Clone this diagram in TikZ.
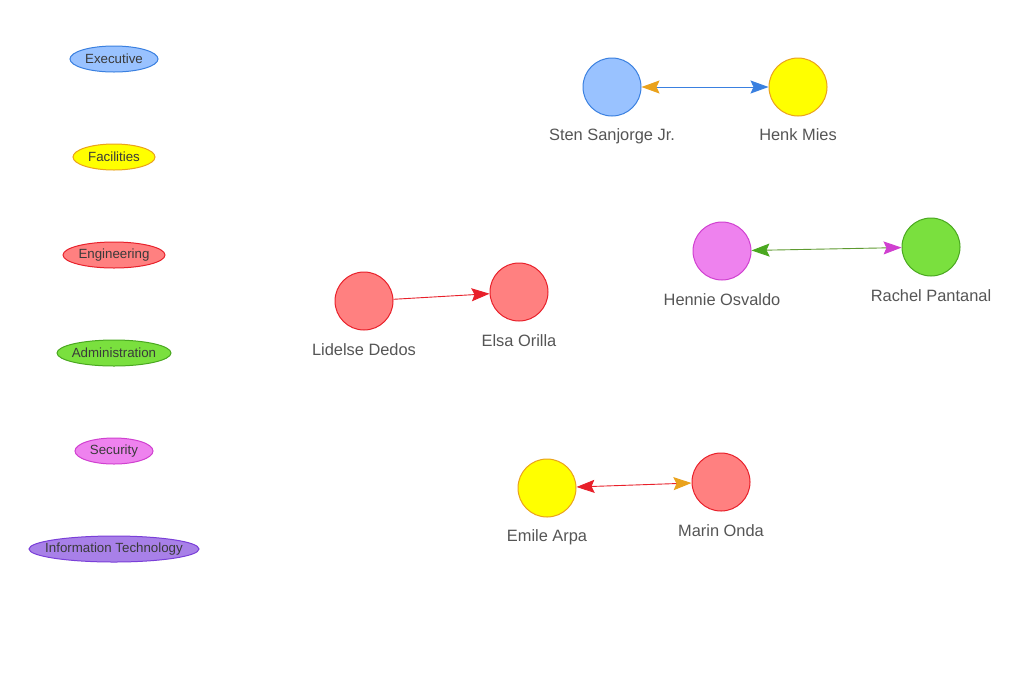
\documentclass[tikz,border=0pt]{standalone}
\usepackage{fontspec}
\setmainfont{Liberation Sans}
\usetikzlibrary{arrows.meta,shapes.geometric}
\definecolor{bluefill}{HTML}{99C2FF}\definecolor{bluestroke}{HTML}{3A80E0}
\definecolor{yelfill}{HTML}{FFFF00}\definecolor{yelstroke}{HTML}{EAA21C}
\definecolor{redfill}{HTML}{FF8080}\definecolor{redstroke}{HTML}{E8202A}
\definecolor{grnfill}{HTML}{7AE03E}\definecolor{grnstroke}{HTML}{4AA820}
\definecolor{magfill}{HTML}{EE82EE}\definecolor{magstroke}{HTML}{D040D0}
\definecolor{purfill}{HTML}{A880E8}\definecolor{purstroke}{HTML}{7A3FD8}
\definecolor{olive2}{HTML}{5E9A30}
\definecolor{lbl}{HTML}{555555}
\definecolor{lgtxt}{HTML}{3A3A3A}
\newcommand{\zw}[1]{\makebox[0pt]{#1}}
\tikzset{
  person/.style={circle,minimum size=58pt,inner sep=0pt,line width=1pt},
  lab/.style={text=lbl,font=\fontsize{16.4}{19}\selectfont},
  legend/.style={ellipse,minimum height=26pt,inner sep=0pt,line width=1pt,text=lgtxt,font=\fontsize{13.3}{15}\selectfont},
  tipp/.tip={Stealth[length=18pt,width=13pt,inset=3pt]},
  conn/.style={line width=0.9pt}
}
\begin{document}
\begin{tikzpicture}[x=1pt,y=-1pt]
\useasboundingbox[fill=white] (0,0) rectangle (1032,686);
% legend
\node[legend,fill=bluefill,draw=bluestroke,minimum width=88pt] (lexe) at (114,59) {\zw{Executive}};
\node[legend,fill=yelfill,draw=yelstroke,minimum width=82pt] (lfac) at (114,157) {\zw{Facilities}};
\node[legend,fill=redfill,draw=redstroke,minimum width=102pt] (leng) at (114,255) {\zw{Engineering}};
\node[legend,fill=grnfill,draw=grnstroke,minimum width=114pt] (ladm) at (114,353) {\zw{Administration}};
\node[legend,fill=magfill,draw=magstroke,minimum width=78pt] (lsec) at (114,451) {\zw{Security}};
\node[legend,fill=purfill,draw=purstroke,minimum width=170pt] (lit) at (114,549) {\zw{Information Technology}};
% people
\node[person,fill=bluefill,draw=bluestroke] (sten) at (612,87) {};
\node[person,fill=yelfill,draw=yelstroke] (henk) at (798,87) {};
\node[person,fill=magfill,draw=magstroke] (hennie) at (722,251) {};
\node[person,fill=grnfill,draw=grnstroke] (rachel) at (931,247) {};
\node[person,fill=redfill,draw=redstroke] (lidelse) at (364,301) {};
\node[person,fill=redfill,draw=redstroke] (elsa) at (519,292) {};
\node[person,fill=yelfill,draw=yelstroke] (emile) at (547,488) {};
\node[person,fill=redfill,draw=redstroke] (marin) at (721,482) {};
% labels
\node[lab] (tsten) at (612,136) {Sten Sanjorge Jr.};
\node[lab] (thenk) at (798,135) {Henk Mies};
\node[lab] (thennie) at (722,300) {Hennie Osvaldo};
\node[lab] (trachel) at (931,296) {Rachel Pantanal};
\node[lab] (tlidelse) at (364,350) {Lidelse Dedos};
\node[lab] (telsa) at (519,341) {Elsa Orilla};
\node[lab] (temile) at (547,537) {Emile Arpa};
\node[lab] (tmarin) at (721,531) {Marin Onda};
% connectors
\draw[conn,draw=bluestroke,{tipp[color=yelstroke]}-{tipp[color=bluestroke]}] (sten) -- (henk);
\draw[conn,draw=olive2,{tipp[color=grnstroke]}-{tipp[color=magstroke]}] (hennie) -- (rachel);
\draw[conn,draw=redstroke,-{tipp[color=redstroke]}] (lidelse) -- (elsa);
\draw[conn,draw=redstroke,{tipp[color=redstroke]}-{tipp[color=yelstroke]}] (emile) -- (marin);
\end{tikzpicture}
\end{document}
